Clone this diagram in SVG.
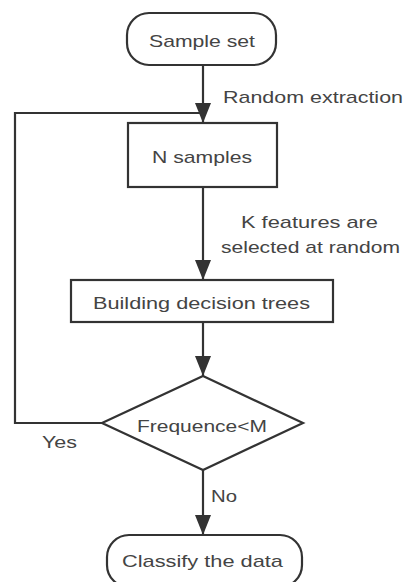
<svg xmlns="http://www.w3.org/2000/svg" width="406" height="582" viewBox="0 0 406 582">
<style>
.box{fill:#fff;stroke:#333;stroke-width:2.2}
.ln{fill:none;stroke:#333;stroke-width:2.2}
text{font-family:"Liberation Sans",Arial,sans-serif;font-size:17px;fill:#444}
</style>
<defs>
<marker id="ah" markerUnits="userSpaceOnUse" markerWidth="20" markerHeight="16" refX="20" refY="8" orient="auto">
<path d="M0,0 L20,8 L0,16 z" fill="#333"/>
</marker>
</defs>
<rect width="406" height="582" fill="#fff"/>
<g id="connectors">
<path class="ln" d="M203 65 V123" marker-end="url(#ah)"/>
<path class="ln" d="M203 187 V280" marker-end="url(#ah)"/>
<path class="ln" d="M203 322 V376" marker-end="url(#ah)"/>
<path class="ln" d="M203 470 V535" marker-end="url(#ah)"/>
<path class="ln" d="M102 423 H15 V113 H203"/>
<text x="223" y="103" textLength="180" lengthAdjust="spacingAndGlyphs">Random extraction</text>
<text x="241" y="228" textLength="137" lengthAdjust="spacingAndGlyphs">K features are</text>
<text x="221" y="253" textLength="179" lengthAdjust="spacingAndGlyphs">selected at random</text>
<text x="42" y="448" textLength="35" lengthAdjust="spacingAndGlyphs">Yes</text>
<text x="211" y="502" textLength="26" lengthAdjust="spacingAndGlyphs">No</text>
</g>
<g id="sample-set">
<rect class="box" x="127" y="13" width="149" height="52" rx="22"/>
<text x="149" y="47" textLength="106" lengthAdjust="spacingAndGlyphs">Sample set</text>
</g>
<g id="n-samples">
<rect class="box" x="128" y="123" width="149" height="64"/>
<text x="152" y="163" textLength="100" lengthAdjust="spacingAndGlyphs">N samples</text>
</g>
<g id="building">
<rect class="box" x="71" y="280" width="262" height="42"/>
<text x="93" y="309" textLength="217" lengthAdjust="spacingAndGlyphs">Building decision trees</text>
</g>
<g id="frequence">
<polygon class="box" points="203,376 303,423 203,470 102,423"/>
<text x="137" y="432" textLength="130" lengthAdjust="spacingAndGlyphs">Frequence&lt;M</text>
</g>
<g id="classify">
<rect class="box" x="107" y="535" width="195" height="52" rx="22"/>
<text x="122" y="567" textLength="161" lengthAdjust="spacingAndGlyphs">Classify the data</text>
</g>
</svg>
